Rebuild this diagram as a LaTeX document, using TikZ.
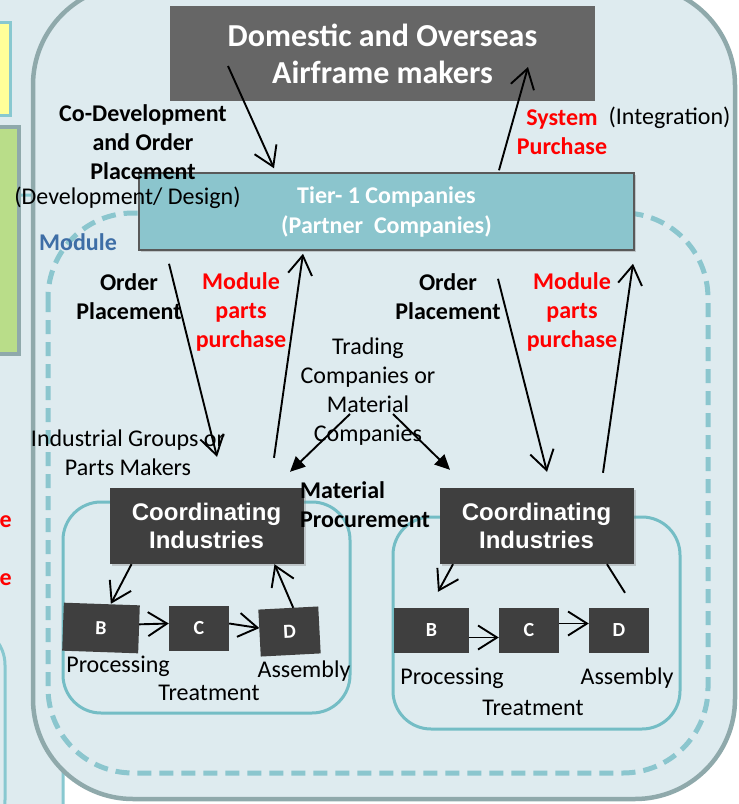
\documentclass[tikz,border=0pt]{standalone}
\usepackage{fontspec}
\setmainfont{Carlito}
\newfontfamily\arialfont{Liberation Sans}
\usetikzlibrary{
    arrows.meta,
    shadows
}
\definecolor{panelblue}{HTML}{DEEBEF}
\definecolor{framegray}{HTML}{8FA9AB}
\definecolor{moduleteal}{HTML}{8BC6CE}
\definecolor{innerteal}{HTML}{74BDC5}
\definecolor{tierteal}{HTML}{8BC5CD}
\definecolor{makergray}{HTML}{666666}
\definecolor{coordgray}{HTML}{3F3F3F}
\definecolor{modblue}{HTML}{3E6EA6}
\definecolor{paleyellow}{HTML}{FFFF99}
\definecolor{palegreen}{HTML}{B9DD89}
\definecolor{edgeteal}{HTML}{88C8D0}

\tikzset{
    lbl/.style={font=\fontsize{24}{29}\selectfont, align=center, inner sep=0pt},
    blbl/.style={lbl, font=\fontsize{24}{29}\selectfont\bfseries},
    rlbl/.style={blbl, text=red},
    arr/.style={-{Straight Barb[length=19pt,width=24pt]}, line width=1.9pt},
    farr/.style={-{Triangle[length=15pt,width=14pt]}, line width=1.9pt},
    boxshadow/.style={drop shadow={shadow xshift=2pt, shadow yshift=-2pt, opacity=.35}},
    coordbox/.style={fill=coordgray, text=white, boxshadow,
        font=\arialfont\fontsize{24}{28}\selectfont\bfseries, align=center,
        minimum width=194pt, minimum height=76pt},
    partbox/.style={fill=coordgray, text=white,
        font=\fontsize{20}{24}\selectfont\bfseries,
        minimum width=60pt, minimum height=45pt}
}

\begin{document}
\begin{tikzpicture}[x=1pt, y=-1pt]
    \useasboundingbox (0, 0) rectangle (739, 804);

    % left column, cut off by the slide edge
    \fill [panelblue] (-5, -5) rectangle (110, 200);
    \draw [edgeteal, line width=3, fill=panelblue, rounded corners=20] (-60, 195) rectangle (63, 840);
    \draw [edgeteal, line width=3, fill=panelblue, rounded corners=40] (-80, 625) rectangle (5, 840);
    \draw [edgeteal, line width=3, fill=paleyellow] (-20, 22) rectangle (10, 115);
    \draw [framegray, line width=4, fill=palegreen] (-20, 127) rectangle (19, 354);
    \node [rlbl, anchor=east] (cut1) at (12, 522) {e};
    \node [rlbl, anchor=east] (cut2) at (12, 580) {e};

    % main panel and module area
    \draw [framegray, line width=4.5, fill=panelblue, rounded corners=100] (33, -15) rectangle (735, 799);
    \draw [moduleteal, line width=5, dash pattern=on 14pt off 8pt, rounded corners=85] (48, 213) rectangle (708, 773);
    \draw [innerteal, line width=3, rounded corners=38] (63, 502) rectangle (350, 713);
    \draw [innerteal, line width=3, rounded corners=38] (393, 517) rectangle (680, 729);

    % boxes
    \node [fill=makergray, text=white, minimum width=425pt, minimum height=95pt, align=center,
        font=\fontsize{32}{37}\selectfont\bfseries] (maker) at (382.5, 53.5)
        {Domestic and Overseas\\Airframe makers};
    \node [fill=tierteal, draw=black!65, line width=1.5, text=white, boxshadow,
        minimum width=495pt, minimum height=77pt, align=center,
        font=\fontsize{24}{30}\selectfont\bfseries] (tier) at (386.5, 211.5)
        {Tier- 1 Companies\\(Partner\ \ Companies)};
    \node [coordbox] (lci) at (206.5, 526) {Coordinating\\Industries};
    \node [coordbox] (rci) at (536.5, 526) {Coordinating\\Industries};

    \node [partbox, minimum width=76pt, minimum height=48pt, rotate=-2] (lB) at (101, 628) {B};
    \node [partbox] (lC) at (199, 628.5) {C};
    \node [partbox, minimum height=47pt, rotate=3] (lD) at (289.5, 631.5) {D};
    \node [partbox, minimum width=75pt] (rB) at (431.5, 630.5) {B};
    \node [partbox] (rC) at (529, 630.5) {C};
    \node [partbox] (rD) at (619, 630.5) {D};

    % labels
    \node [blbl] (codev) at (143, 142) {Co-Development\\and Order\\Placement};
    \node [lbl] (design) at (127.5, 198) {(Development/ Design)};
    \node [blbl, text=modblue, anchor=west] (module) at (39, 242) {Module};
    \node [rlbl] (syspur) at (562, 132) {System\\Purchase};
    \node [lbl] (integ) at (669.5, 118) {(Integration)};
    \node [blbl] (lorder) at (129, 297) {Order\\Placement};
    \node [rlbl] (lmod) at (241, 312) {Module\\parts\\purchase};
    \node [blbl] (rorder) at (448, 297) {Order\\Placement};
    \node [rlbl] (rmod) at (572, 312) {Module\\parts\\purchase};
    \node [lbl] (trade) at (368, 392) {Trading\\Companies or\\Material\\Companies};
    \node [lbl] (indgrp) at (128, 453) {Industrial Groups or\\Parts Makers};
    \node [blbl, align=left, anchor=west] (matproc) at (300, 505) {Material\\Procurement};
    \node [lbl] (lproc) at (118, 666) {Processing};
    \node [lbl] (ltreat) at (209, 693) {Treatment};
    \node [lbl] (lassem) at (304, 671) {Assembly};
    \node [lbl] (rproc) at (452, 678) {Processing};
    \node [lbl] (rtreat) at (533, 708) {Treatment};
    \node [lbl] (rassem) at (627, 678) {Assembly};

    % connectors
    \draw [arr] ([xshift=-154.5pt, yshift=-12.5pt]maker.center) -- ([xshift=-112.5pt, yshift=4pt]tier.north);
    \draw [arr] ([xshift=112.5pt, yshift=2pt]tier.north) -- ([xshift=145.5pt, yshift=-13.5pt]maker.center);
    \draw [arr] ([xshift=-217.5pt, yshift=-13pt]tier.south) -- ([xshift=10.5pt, yshift=31pt]lci.north);
    \draw [arr] ([xshift=67.5pt, yshift=30pt]lci.north) -- ([xshift=-83.5pt, yshift=-3pt]tier.south);
    \draw [arr] ([xshift=111.5pt, yshift=-28pt]tier.south) -- ([xshift=10.5pt, yshift=16pt]rci.north);
    \draw [arr] ([xshift=66.5pt, yshift=15pt]rci.north) -- ([xshift=246.5pt, yshift=-13pt]tier.south);
    \draw [farr] ([xshift=-18pt, yshift=-22pt]trade.center) -- ([xshift=83.5pt, yshift=16pt]lci.north);
    \draw [farr] ([xshift=25pt, yshift=-22pt]trade.center) -- ([xshift=-86.5pt, yshift=18pt]rci.north);

    \draw [arr] ([xshift=-75pt]lci.south) -- ([xshift=9pt]lB.north);
    \draw [arr] ([yshift=5pt]lB.east) -- ([yshift=5pt]lC.west);
    \draw [arr] ([yshift=5pt]lC.east) -- ([yshift=5pt]lD.west);
    \draw [arr] ([xshift=5pt]lD.north) -- ([xshift=68pt]lci.south);

    \draw [arr] ([xshift=-83.5pt]rci.south) -- ([xshift=6.5pt, yshift=16pt]rB.north);
    \draw [arr] ([yshift=-7pt]rB.east) -- ([yshift=-7pt]rC.west);
    \draw [arr] ([yshift=7pt]rC.east) -- ([yshift=7pt]rD.west);
    \draw [line width=1.9pt] ([xshift=6pt, yshift=15pt]rD.north) -- ([xshift=70.5pt]rci.south);
\end{tikzpicture}
\end{document}
